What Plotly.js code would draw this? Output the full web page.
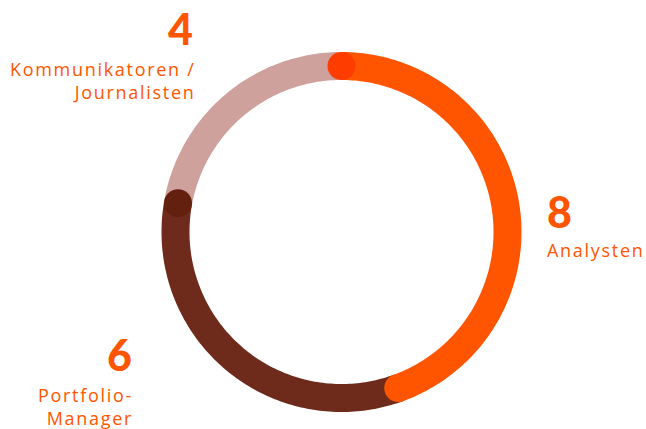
<!DOCTYPE html>
<html>
<head>
<meta charset="utf-8">
<script src="https://cdn.plot.ly/plotly-3.0.1.min.js"></script>
<style>
  html, body { margin: 0; padding: 0; background: #ffffff; }
  #chart { width: 646px; height: 429px; }
</style>
</head>
<body>
<div id="chart"></div>
<script>
// Group sizes, clockwise from 12 o'clock
const categories = ['Analysten', 'Portfolio-Manager', 'Kommunikatoren / Journalisten'];
const counts = [8, 6, 4];
const labelLines = [['Analysten'], ['Portfolio-', 'Manager'], ['Kommunikatoren /', 'Journalisten']];
const ringColors = ['#ff5500', '#6e2a1a', '#cfa19d'];
const capColors = ['#ff3c00', '#ff5500', '#63200f'];

const total = counts.reduce((a, b) => a + b, 0);
const starts = [];
let acc = 0;
counts.forEach(v => { starts.push(acc / total * 360); acc += v; });
const ends = counts.map((v, i) => starts[i] + v / total * 360);

// sample each arc in one-degree steps
function arc(a0, a1) {
  const th = [];
  const n = Math.max(2, Math.ceil(a1 - a0));
  for (let k = 0; k <= n; k++) th.push(a0 + (a1 - a0) * k / n);
  return th;
}

const RING_W = 28;
const traces = [];
// pink, brown, orange: the first segment is drawn last so it sits on top
[2, 1, 0].forEach(i => {
  const th = arc(starts[i], ends[i]);
  traces.push({
    type: 'scatterpolar', mode: 'lines',
    r: th.map(() => 1), theta: th,
    line: { color: ringColors[i], width: RING_W },
    hoverinfo: 'skip', cliponaxis: false, showlegend: false
  });
});
// round caps at the segment joins
traces.push({
  type: 'scatterpolar', mode: 'markers',
  r: [1, 1, 1],
  theta: [starts[0], ends[0], ends[1]],
  marker: { size: RING_W, color: capColors, line: { width: 0 } },
  hoverinfo: 'skip', cliponaxis: false, showlegend: false
});

const W = 646, H = 429;
const px = x => x / W;
const py = y => 1 - y / H;
const numFont = { family: 'Lato, "DejaVu Sans", sans-serif', size: 43, color: '#ff5500', weight: 900 };
const lblFont = { family: '"Open Sans", sans-serif', size: 18, color: '#ff5500', weight: 400 };
const spaced = s => '<span style="letter-spacing:1.7px">' + s + '</span>';

// label anchor spots (px) for each category
const numPos = [[545, 211, 'left'], [134, 354, 'right'], [195, 28, 'right']];
const lblPos = [[545, 250, 'left'], [135, 406, 'right'], [197, 80, 'right']];

const annotations = [];
categories.forEach((c, i) => {
  annotations.push({
    xref: 'paper', yref: 'paper', x: px(numPos[i][0]), y: py(numPos[i][1]),
    xanchor: numPos[i][2], yanchor: 'middle', showarrow: false,
    text: String(counts[i]), font: numFont
  });
  annotations.push({
    xref: 'paper', yref: 'paper', x: px(lblPos[i][0]), y: py(lblPos[i][1]),
    xanchor: lblPos[i][2], yanchor: 'middle', align: lblPos[i][2], showarrow: false,
    text: labelLines[i].map(spaced).join('<br>'), font: lblFont
  });
});

// ring centre and radius (px)
const CX = 341.5, CY = 232, R = 166, RMAX = 1.1;
const DR = R * RMAX;
const layout = {
  width: W, height: H,
  margin: { l: 0, r: 0, t: 0, b: 0 },
  paper_bgcolor: '#ffffff',
  showlegend: false,
  polar: {
    domain: { x: [px(CX - DR), px(CX + DR)], y: [py(CY + DR), py(CY - DR)] },
    bgcolor: 'rgba(0,0,0,0)',
    radialaxis: { visible: false, range: [0, RMAX], showgrid: false },
    angularaxis: { visible: false, rotation: 90, direction: 'clockwise', showgrid: false, showline: false, ticks: '' }
  },
  annotations: annotations
};

Plotly.newPlot('chart', traces, layout, { displayModeBar: false, staticPlot: true });
</script>
</body>
</html>
